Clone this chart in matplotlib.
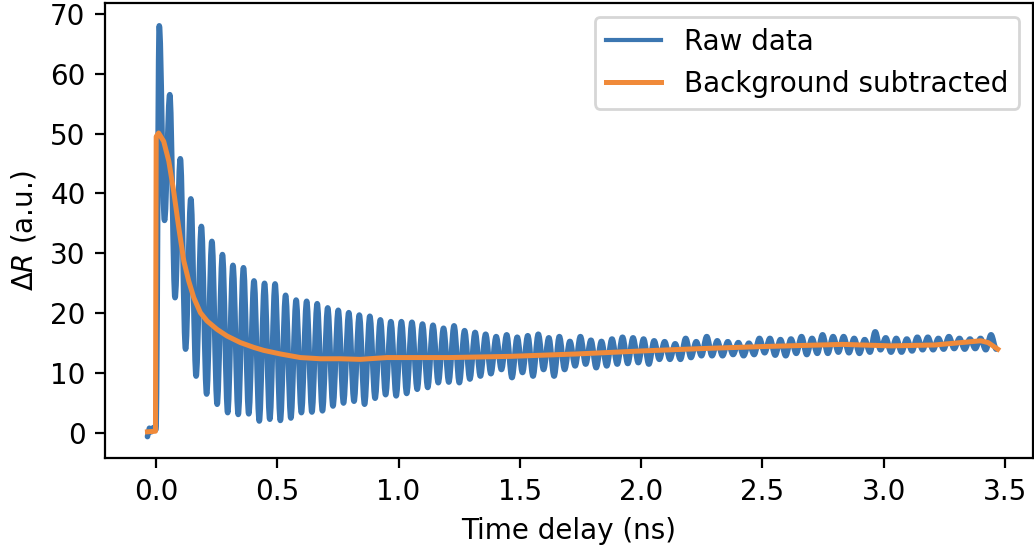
import matplotlib.pyplot as plt
import numpy as np
from matplotlib.path import Path
from matplotlib.patches import PathPatch

# raw data: baseline before time zero, then one peak / one trough per oscillation
pre_t = [-0.035, -0.027, -0.019, -0.011, -0.004, 0.0]
pre_v = [-0.6, 0.8, 0.2, 0.9, 0.5, 0.6]

peaks = [68.0, 56.5, 45.8, 39.1, 34.5, 32.0, 29.8, 28.0, 27.6, 25.4, 25.0,
         24.9, 23.0, 22.2, 22.0, 21.6, 20.9, 20.5, 20.1, 19.7, 19.5, 18.9,
         18.6, 18.6, 18.5, 18.2, 18.0, 17.5, 17.9, 17.1, 16.8, 16.5, 16.1, 16.4, 16.0,
         16.25, 16.5, 15.9, 16.1, 15.3, 16.1, 15.5, 15.3, 15.7, 16.0, 15.9,
         15.7, 15.4, 15.25, 14.9, 15.8, 15.25, 16.1, 15.4, 15.25, 15.1, 15.0, 15.8,
         15.8, 15.6, 15.7, 16.1, 15.8, 16.4, 16.1, 16.1, 15.8, 15.6, 16.9,
         15.9, 15.8, 15.7, 16.0, 16.0, 15.8, 16.1, 15.8, 15.7, 15.8, 16.4]
troughs = [35.5, 22.6, 14.0, 9.5, 6.5, 4.8, 3.4, 3.1, 3.2, 2.0, 2.3,
           2.1, 2.5, 3.4, 3.5, 3.7, 4.5, 5.0, 5.3, 4.8, 5.8,
           6.4, 6.2, 6.6, 7.3, 7.6, 8.4, 8.5, 8.4, 9.0, 9.5, 9.9, 10.6,
           9.25, 10.1, 9.5, 10.6, 9.5, 10.6, 11.2, 11.5, 10.9, 11.2, 11.5, 11.6, 11.75,
           11.5, 12.3, 12.3, 12.3, 12.6, 12.9, 12.9, 12.9, 13.1, 12.9, 13.1, 13.4,
           13.0, 12.9, 13.3, 13.1, 13.3, 13.3, 13.5, 13.4, 13.3, 13.5, 13.9,
           13.5, 13.5, 13.7, 13.9, 13.9, 14.0, 14.1, 14.0, 14.1, 13.9, 14.0]
first_peak = 0.0136   # ns
period = 0.0434       # ns

# background (smooth) curve
bg_t = [-0.035, -0.002, 0.001, 0.011, 0.032, 0.053, 0.073, 0.094, 0.115, 0.135,
        0.156, 0.183, 0.211, 0.252, 0.293, 0.348, 0.403, 0.444, 0.513, 0.595,
        0.677, 0.760, 0.842, 0.952, 1.21, 1.46, 1.735, 2.0, 2.25, 2.51, 2.74,
        2.83, 3.03, 3.21, 3.40, 3.43, 3.47]
bg_v = [0.2, 0.3, 49.5, 50.1, 48.7, 45.4, 40.4, 34.3, 28.7, 25.4,
        22.6, 20.1, 18.7, 17.3, 16.2, 15.1, 14.3, 13.8, 13.2, 12.6,
        12.4, 12.4, 12.3, 12.6, 12.6, 12.8, 13.2, 13.7, 14.1, 14.45, 14.7,
        14.8, 14.55, 14.7, 15.4, 15.1, 14.0]

blue = '#3b76b1'
orange = '#f08a3a'

raw_t = list(pre_t)
raw_v = list(pre_v)
for k in range(len(peaks)):
    tp = first_peak + k * period
    raw_t += [tp, tp + period / 2]
    raw_v += [peaks[k], troughs[k]]

# smooth the oscillation between extrema with cubic bezier segments
verts = [(raw_t[0], raw_v[0])]
codes = [Path.MOVETO]
for i in range(1, len(raw_t)):
    if i < len(pre_t):
        verts.append((raw_t[i], raw_v[i]))
        codes.append(Path.LINETO)
    else:
        dt = raw_t[i] - raw_t[i - 1]
        verts += [(raw_t[i - 1] + 0.36 * dt, raw_v[i - 1]),
                  (raw_t[i] - 0.36 * dt, raw_v[i]),
                  (raw_t[i], raw_v[i])]
        codes += [Path.CURVE4] * 3

fig = plt.figure(figsize=(5.17, 2.76), dpi=200)
ax = fig.add_axes([0.1015, 0.170, 0.8975, 0.8245])
ax.add_patch(PathPatch(Path(verts, codes), fill=False, edgecolor=blue,
                       lw=2.0, joinstyle='round', capstyle='round'))
ax.plot([], [], color=blue, lw=1.5, label='Raw data')
ax.plot(bg_t, bg_v, color=orange, lw=1.8, label='Background subtracted')
ax.set_xlim(-0.2102, 3.615)
ax.set_ylim(-4.2, 71.8)
ax.set_xlabel('Time delay (ns)')
ax.set_ylabel(r'$\Delta R$ (a.u.)')
ax.legend(loc='upper right')
fig.savefig('out.png', dpi=200)
